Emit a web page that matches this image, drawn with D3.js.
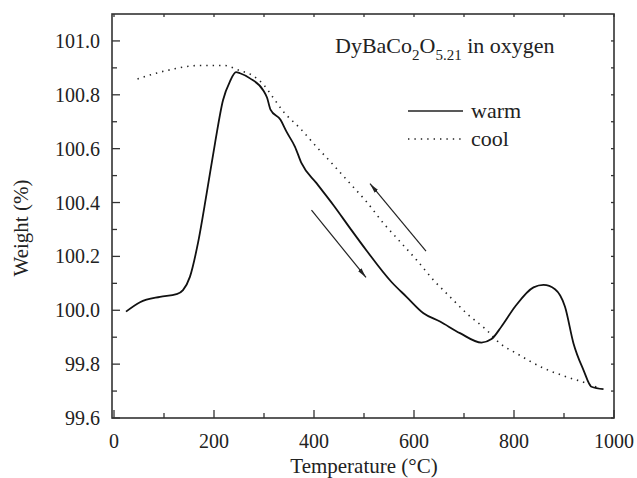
<!DOCTYPE html>
<html lang="en">
	<head>
		<meta charset="utf-8">
		<title>DyBaCo2O5.21 TGA</title>
		<script type="text/javascript" src="https://cdn.jsdelivr.net/npm/d3@7"></script>
		<style type="text/css">
			body { margin: 0; background: #fff; }
			text { font-family: "Liberation Serif", "Times New Roman", serif; fill: #222; }
		</style>
	</head>
	<body>
		<script type="text/javascript">

			//Width and height
			var w = 637;
			var h = 478;

			//Warm curve (temperature, weight %)
			var warmT = [24, 52, 92, 125, 138, 152, 168, 185, 202, 218, 232, 244, 252, 272, 299, 306, 313, 333, 345, 362, 375,
			             405, 439, 472, 505, 555, 585, 619, 652, 692, 735, 755, 775, 802, 839, 859, 882, 902, 919, 939, 955, 979];
			var warmW = [99.995, 100.03, 100.05, 100.06, 100.075, 100.125, 100.25, 100.43, 100.62, 100.78, 100.85, 100.884, 100.88, 100.861, 100.815, 100.79, 100.745, 100.707, 100.663, 100.607, 100.546,
			             100.472, 100.39, 100.305, 100.222, 100.105, 100.05, 99.989, 99.958, 99.915, 99.88, 99.893, 99.94, 100.013, 100.085, 100.094, 100.078, 100.013, 99.877, 99.778, 99.716, 99.707];

			//Cool curve
			var coolT = [47, 105, 172, 219, 252, 275, 299, 320, 339, 372, 405, 439, 472, 505, 539, 572, 605, 639, 672, 705, 745, 772, 805, 859, 905, 945, 972];
			var coolW = [100.859, 100.89, 100.909, 100.909, 100.89, 100.874, 100.838, 100.785, 100.737, 100.676, 100.607, 100.539, 100.471, 100.403, 100.323, 100.255, 100.187, 100.112, 100.05, 99.989, 99.927, 99.877, 99.84, 99.785, 99.753, 99.729, 99.71];

			//Direction arrows [fromT, fromW, toT, toW]
			var arrows = [[395, 100.372, 504, 100.122], [624, 100.22, 512, 100.47]];

			var xTicks = [0, 200, 400, 600, 800, 1000];
			var yTicks = [99.6, 99.8, 100.0, 100.2, 100.4, 100.6, 100.8, 101.0];

			// plot box (avoid "top", it is window.top)
			var pL = 112, pR = 614, pT = 14, pB = 418;

			var x = d3.scaleLinear().domain([-4, 1000]).range([pL, pR]);
			var y = d3.scaleLinear().domain([99.6, 101.1]).range([pB, pT]);

			var svg = d3.select("body")
						.append("svg")
						.attr("width", w)
						.attr("height", h);

			// arrow head
			svg.append("defs").append("marker")
			   .attr("id", "head")
			   .attr("viewBox", "0 0 10 6")
			   .attr("refX", 10).attr("refY", 3)
			   .attr("markerWidth", 10).attr("markerHeight", 6)
			   .attr("markerUnits", "userSpaceOnUse")
			   .attr("orient", "auto")
			   .append("path")
			   .attr("d", "M0,0.8L10,3L0,5.2Z")
			   .attr("fill", "#222");

			// minor + major ticks (inward), all four sides
			var xMinor = d3.range(0, 1001, 100);
			var yMinor = d3.range(0, 15).map(function(i) { return 99.6 + i * 0.1; });

			var axisG = svg.append("g").attr("stroke", "#333").attr("stroke-width", 1.3);

			xMinor.forEach(function(t) {
				var len = (t % 200 === 0) ? 8 : 5;
				axisG.append("line").attr("x1", x(t)).attr("x2", x(t)).attr("y1", pB).attr("y2", pB - len);
				axisG.append("line").attr("x1", x(t)).attr("x2", x(t)).attr("y1", pT).attr("y2", pT + 3);
			});
			yMinor.forEach(function(v, i) {
				var len = (i % 2 === 0) ? 8 : 5;
				axisG.append("line").attr("x1", pL).attr("x2", pL + len).attr("y1", y(v)).attr("y2", y(v));
				axisG.append("line").attr("x1", pR).attr("x2", pR - 3).attr("y1", y(v)).attr("y2", y(v));
			});

			// frame
			svg.append("rect")
			   .attr("x", pL).attr("y", pT)
			   .attr("width", pR - pL).attr("height", pB - pT)
			   .attr("fill", "none").attr("stroke", "#333").attr("stroke-width", 1.6);

			// tick labels
			svg.selectAll(".xl").data(xTicks).enter().append("text")
			   .attr("x", function(d) { return x(d); })
			   .attr("y", 448)
			   .attr("text-anchor", "middle")
			   .attr("font-size", 20)
			   .text(function(d) { return d; });

			svg.selectAll(".yl").data(yTicks).enter().append("text")
			   .attr("x", 100)
			   .attr("y", function(d) { return y(d) + 7; })
			   .attr("text-anchor", "end")
			   .attr("font-size", 20)
			   .text(function(d) { return d3.format(".1f")(d); });

			// axis titles
			svg.append("text")
			   .attr("x", 364).attr("y", 473)
			   .attr("text-anchor", "middle")
			   .attr("font-size", 21)
			   .text("Temperature (°C)");

			svg.append("text")
			   .attr("transform", "translate(28,228) rotate(-90)")
			   .attr("text-anchor", "middle")
			   .attr("font-size", 21)
			   .text("Weight (%)");

			// curves
			var line = d3.line()
						 .x(function(d) { return x(d[0]); })
						 .y(function(d) { return y(d[1]); })
						 .curve(d3.curveMonotoneX);

			svg.append("path")
			   .datum(d3.zip(coolT, coolW))
			   .attr("d", line)
			   .attr("fill", "none")
			   .attr("stroke", "#222")
			   .attr("stroke-width", 1.6)
			   .attr("stroke-dasharray", "1.4,5");

			svg.append("path")
			   .datum(d3.zip(warmT, warmW))
			   .attr("d", line)
			   .attr("fill", "none")
			   .attr("stroke", "#111")
			   .attr("stroke-width", 1.8);

			// arrows
			svg.selectAll(".arr").data(arrows).enter().append("line")
			   .attr("x1", function(d) { return x(d[0]); })
			   .attr("y1", function(d) { return y(d[1]); })
			   .attr("x2", function(d) { return x(d[2]); })
			   .attr("y2", function(d) { return y(d[3]); })
			   .attr("stroke", "#222")
			   .attr("stroke-width", 1.2)
			   .attr("marker-end", "url(#head)");

			// title
			var title = svg.append("text").attr("x", 335).attr("y", 53).attr("font-size", 22);
			title.append("tspan").text("DyBaCo");
			title.append("tspan").attr("font-size", 15).attr("dy", 7).text("2");
			title.append("tspan").attr("dy", -7).text("O");
			title.append("tspan").attr("font-size", 15).attr("dy", 7).text("5.21");
			title.append("tspan").attr("dy", -7).text(" in oxygen");

			// legend
			var legend = [["warm", null, 111], ["cool", "1.4,5", 139]];
			legend.forEach(function(l) {
				svg.append("line")
				   .attr("x1", 408).attr("x2", 463)
				   .attr("y1", l[2]).attr("y2", l[2])
				   .attr("stroke", "#222")
				   .attr("stroke-width", 1.6)
				   .attr("stroke-dasharray", l[1]);
				svg.append("text")
				   .attr("x", 471).attr("y", l[2] + 7)
				   .attr("font-size", 22)
				   .text(l[0]);
			});

		</script>
	</body>
</html>
